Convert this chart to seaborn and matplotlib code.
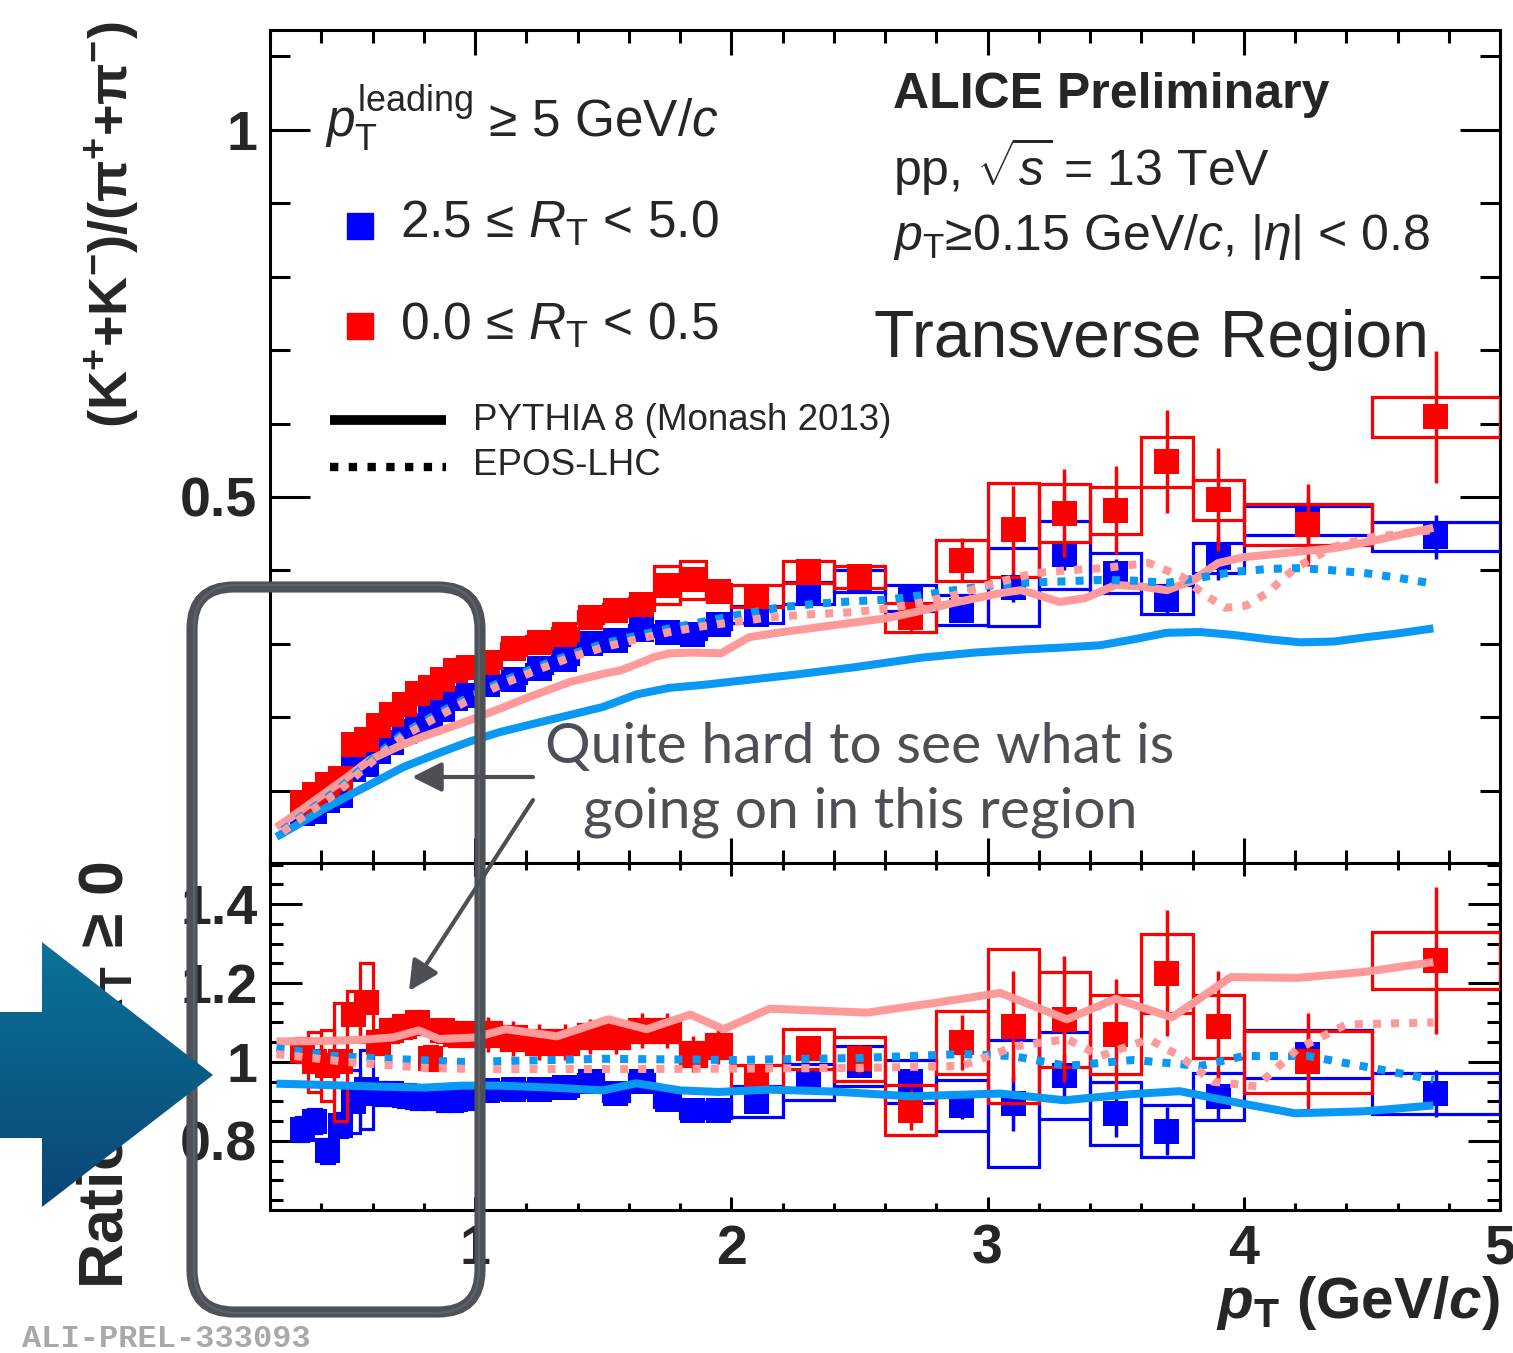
import numpy as np
import pandas as pd
import matplotlib
matplotlib.use("Agg")
import matplotlib.pyplot as plt
from matplotlib.ticker import MultipleLocator
from matplotlib.patches import Rectangle, Polygon, FancyBboxPatch
from matplotlib.colors import LinearSegmentedColormap
import seaborn as sns

W, H = 1513, 1353

# ---------------- data ----------------
pt_edges = [0.30, 0.35, 0.40, 0.45, 0.50, 0.55, 0.60, 0.65, 0.70, 0.75, 0.80, 0.85, 0.90, 0.95,
            1.00, 1.10, 1.20, 1.30, 1.40, 1.50, 1.60, 1.70, 1.80, 1.90,
            2.00, 2.20, 2.40, 2.60, 2.80, 3.00, 3.20, 3.40, 3.60, 3.80,
            4.00, 4.50, 5.00]

# (K+ + K-)/(pi+ + pi-), 2.5 <= RT < 5.0
kpi_high = [0.069, 0.072, 0.086, 0.093, 0.129, 0.135, 0.153, 0.166, 0.180, 0.189, 0.200, 0.211, 0.225, 0.230,
            0.244, 0.252, 0.266, 0.278, 0.300, 0.305, 0.320, 0.316, 0.313, 0.326,
            0.340, 0.369, 0.385, 0.362, 0.346, 0.377, 0.421, 0.396, 0.360, 0.417,
            0.468, 0.446]
kpi_high_stat = [0.001, 0.001, 0.001, 0.001, 0.001, 0.001, 0.001, 0.001, 0.001, 0.001, 0.001, 0.001, 0.001, 0.001,
                 0.002, 0.002, 0.002, 0.002, 0.002, 0.002, 0.002, 0.002, 0.002, 0.002,
                 0.004, 0.006, 0.008, 0.010, 0.012, 0.020, 0.020, 0.020, 0.020, 0.030,
                 0.030, 0.030]
kpi_high_sys = [0.004, 0.004, 0.004, 0.004, 0.004, 0.004, 0.004, 0.004, 0.004, 0.004, 0.004, 0.004, 0.004, 0.004,
                0.006, 0.006, 0.006, 0.006, 0.006, 0.006, 0.006, 0.006, 0.006, 0.006,
                0.012, 0.015, 0.015, 0.018, 0.020, 0.053, 0.046, 0.027, 0.020, 0.020,
                0.020, 0.020]

# (K+ + K-)/(pi+ + pi-), 0.0 <= RT < 0.5
kpi_low = [0.084, 0.095, 0.108, 0.116, 0.163, 0.170, 0.189, 0.203, 0.217, 0.232, 0.241, 0.252, 0.264, 0.268,
           0.275, 0.293, 0.302, 0.313, 0.336, 0.346, 0.354, 0.380, 0.387, 0.371,
           0.365, 0.398, 0.391, 0.336, 0.414, 0.455, 0.478, 0.482, 0.548, 0.496,
           0.462, 0.609]
kpi_low_stat = [0.002, 0.002, 0.002, 0.002, 0.002, 0.002, 0.002, 0.002, 0.002, 0.002, 0.002, 0.002, 0.002, 0.002,
                0.004, 0.004, 0.004, 0.004, 0.004, 0.012, 0.012, 0.012, 0.012, 0.012,
                0.008, 0.012, 0.015, 0.020, 0.030, 0.060, 0.060, 0.060, 0.070, 0.070,
                0.056, 0.090]
kpi_low_sys = [0.005, 0.005, 0.005, 0.005, 0.005, 0.005, 0.005, 0.005, 0.005, 0.005, 0.005, 0.005, 0.005, 0.005,
               0.008, 0.008, 0.008, 0.008, 0.008, 0.008, 0.008, 0.026, 0.026, 0.010,
               0.015, 0.015, 0.015, 0.020, 0.028, 0.064, 0.040, 0.032, 0.034, 0.027,
               0.028, 0.027]

# ratio to RT >= 0
ratio_high = [0.830, 0.850, 0.775, 0.840, 0.900, 0.930, 0.920, 0.920, 0.915, 0.910, 0.910, 0.907, 0.905, 0.910,
              0.927, 0.930, 0.930, 0.935, 0.950, 0.920, 0.950, 0.905, 0.878, 0.878,
              0.900, 0.950, 0.990, 0.950, 0.890, 0.895, 0.965, 0.870, 0.825, 0.912,
              1.020, 0.920]
ratio_high_stat = [0.010, 0.010, 0.010, 0.010, 0.010, 0.010, 0.010, 0.010, 0.010, 0.010, 0.010, 0.010, 0.010, 0.010,
                   0.010, 0.010, 0.010, 0.010, 0.010, 0.010, 0.010, 0.010, 0.010, 0.010,
                   0.015, 0.020, 0.025, 0.030, 0.035, 0.070, 0.055, 0.060, 0.060, 0.060,
                   0.060, 0.060]
ratio_high_sys = [0.030, 0.030, 0.030, 0.030, 0.080, 0.100, 0.030, 0.030, 0.030, 0.030, 0.030, 0.030, 0.030, 0.030,
                  0.020, 0.020, 0.020, 0.020, 0.020, 0.020, 0.020, 0.020, 0.020, 0.020,
                  0.040, 0.046, 0.050, 0.055, 0.065, 0.160, 0.110, 0.080, 0.065, 0.060,
                  0.060, 0.052]

ratio_low = [1.030, 1.000, 0.990, 1.000, 1.120, 1.150, 1.050, 1.080, 1.090, 1.100, 1.010, 1.080, 1.070, 1.070,
             1.070, 1.060, 1.050, 1.050, 1.065, 1.065, 1.080, 1.080, 1.020, 1.040,
             0.963, 1.033, 1.008, 0.878, 1.050, 1.090, 1.108, 1.070, 1.225, 1.090,
             1.000, 1.257]
ratio_low_stat = [0.010, 0.010, 0.010, 0.010, 0.010, 0.010, 0.010, 0.010, 0.010, 0.010, 0.010, 0.010, 0.010, 0.010,
                  0.045, 0.045, 0.045, 0.045, 0.045, 0.045, 0.045, 0.045, 0.045, 0.045,
                  0.020, 0.030, 0.035, 0.050, 0.070, 0.140, 0.160, 0.140, 0.160, 0.140,
                  0.125, 0.185]
ratio_low_sys = [0.030, 0.075, 0.090, 0.150, 0.060, 0.100, 0.030, 0.030, 0.030, 0.030, 0.030, 0.030, 0.030, 0.030,
                 0.030, 0.030, 0.030, 0.030, 0.030, 0.030, 0.030, 0.030, 0.030, 0.030,
                 0.030, 0.050, 0.055, 0.063, 0.080, 0.195, 0.120, 0.100, 0.100, 0.080,
                 0.078, 0.073]

# model predictions, K/pi
pythia_high_pt = [0.225, 0.30, 0.40, 0.50, 0.60, 0.72, 0.85, 0.98, 1.10, 1.24, 1.37, 1.50, 1.63, 1.76, 1.89,
                  2.07, 2.25, 2.48, 2.74, 2.95, 3.13, 3.30, 3.44, 3.57, 3.70, 3.83, 3.96, 4.10, 4.22, 4.35,
                  4.48, 4.60, 4.74]
pythia_high_kpi = [0.037, 0.052, 0.073, 0.092, 0.110, 0.132, 0.150, 0.167, 0.180, 0.192, 0.203, 0.214, 0.231,
                   0.240, 0.244, 0.251, 0.258, 0.268, 0.281, 0.288, 0.292, 0.295, 0.298, 0.306, 0.315, 0.316,
                   0.312, 0.306, 0.302, 0.303, 0.309, 0.314, 0.321]
pythia_low_pt = [0.225, 0.30, 0.40, 0.50, 0.59, 0.70, 0.80, 0.90, 0.98, 1.10, 1.20, 1.37, 1.50, 1.57, 1.63,
                 1.70, 1.76, 1.85, 1.96, 2.07, 2.20, 2.35, 2.48, 2.61, 2.74, 2.87, 3.05, 3.13, 3.20, 3.28,
                 3.38, 3.50, 3.60, 3.70, 3.80, 3.90, 4.00, 4.09, 4.20, 4.35, 4.50, 4.74]
pythia_low_kpi = [0.050, 0.068, 0.093, 0.118, 0.142, 0.160, 0.174, 0.186, 0.196, 0.212, 0.226, 0.248, 0.259,
                  0.264, 0.272, 0.282, 0.287, 0.288, 0.287, 0.309, 0.316, 0.323, 0.329, 0.335, 0.345, 0.356,
                  0.369, 0.373, 0.366, 0.357, 0.362, 0.380, 0.378, 0.373, 0.386, 0.410, 0.418, 0.421, 0.425,
                  0.430, 0.440, 0.458]
epos_high_pt = [0.25, 0.35, 0.46, 0.60, 0.72, 0.85, 0.98, 1.10, 1.24, 1.37, 1.50, 1.63, 1.76, 1.89, 2.02,
                2.20, 2.35, 2.48, 2.61, 2.74, 2.87, 3.00, 3.13, 3.30, 3.44, 3.57, 3.70, 3.83, 3.96, 4.10,
                4.22, 4.35, 4.48, 4.60, 4.72]
epos_high_kpi = [0.046, 0.072, 0.100, 0.143, 0.178, 0.204, 0.228, 0.248, 0.268, 0.285, 0.300, 0.311, 0.321,
                 0.330, 0.339, 0.350, 0.355, 0.358, 0.360, 0.366, 0.373, 0.379, 0.383, 0.385, 0.387, 0.386,
                 0.383, 0.390, 0.398, 0.402, 0.403, 0.400, 0.396, 0.390, 0.383]
epos_low_pt = [0.25, 0.35, 0.46, 0.60, 0.72, 0.85, 0.98, 1.10, 1.24, 1.37, 1.50, 1.63, 1.76, 1.89, 2.02,
               2.15, 2.30, 2.47, 2.61, 2.74, 2.87, 3.00, 3.18, 3.31, 3.45, 3.63, 3.76, 3.85, 3.93, 4.01,
               4.09, 4.20, 4.35, 4.50, 4.74]
epos_low_kpi = [0.044, 0.070, 0.097, 0.140, 0.174, 0.200, 0.224, 0.244, 0.264, 0.281, 0.295, 0.306, 0.316,
                0.324, 0.330, 0.336, 0.340, 0.343, 0.348, 0.356, 0.366, 0.380, 0.396, 0.400, 0.403, 0.410,
                0.391, 0.366, 0.349, 0.352, 0.369, 0.403, 0.432, 0.445, 0.455]

# model predictions, ratio to RT >= 0
pythia_high_ratio_pt = [0.225, 0.40, 0.60, 0.80, 0.95, 1.10, 1.30, 1.50, 1.63, 1.80, 1.95, 2.15, 2.40, 2.70,
                        3.05, 3.30, 3.55, 3.75, 3.95, 4.20, 4.47, 4.74]
pythia_high_ratio = [0.945, 0.942, 0.938, 0.935, 0.940, 0.940, 0.935, 0.928, 0.946, 0.928, 0.924, 0.930, 0.925,
                     0.913, 0.920, 0.903, 0.918, 0.926, 0.900, 0.870, 0.875, 0.890]
pythia_low_ratio_pt = [0.225, 0.40, 0.55, 0.68, 0.78, 0.86, 1.00, 1.12, 1.32, 1.52, 1.67, 1.84, 1.97, 2.15,
                       2.53, 2.80, 3.05, 3.31, 3.50, 3.72, 3.95, 4.21, 4.47, 4.74]
pythia_low_ratio = [1.052, 1.053, 1.056, 1.062, 1.080, 1.058, 1.062, 1.083, 1.065, 1.108, 1.083, 1.120, 1.083,
                    1.135, 1.125, 1.150, 1.175, 1.108, 1.160, 1.113, 1.215, 1.213, 1.228, 1.253]
epos_high_ratio_pt = [0.225, 0.45, 0.60, 0.95, 1.50, 2.00, 2.50, 2.90, 3.10, 3.31, 3.57, 3.83, 4.00, 4.25,
                      4.50, 4.74]
epos_high_ratio = [1.035, 1.015, 1.010, 1.000, 1.008, 1.005, 1.010, 1.020, 1.015, 0.990, 1.005, 0.990, 1.015,
                   1.015, 0.985, 0.955]
epos_low_ratio_pt = [0.225, 0.50, 0.80, 1.00, 1.50, 2.00, 2.50, 2.90, 3.11, 3.31, 3.44, 3.63, 3.75, 3.88,
                     4.05, 4.21, 4.40, 4.74]
epos_low_ratio = [1.020, 1.000, 0.985, 0.982, 0.982, 0.983, 0.985, 0.990, 1.040, 1.058, 1.015, 1.058, 1.015,
                  0.950, 0.938, 1.033, 1.095, 1.100]

# ---------------- style ----------------
RED = "#ff0000"
BLUE = "#0000ff"
PINK = "#ff9a9a"
SKY = "#0a98f5"
GREY = "#4c5055"

sns.set_theme(style="ticks")
plt.rcParams.update({
    "axes.linewidth": 2.2,
    "mathtext.fontset": "custom",
    "mathtext.rm": "Liberation Sans",
    "mathtext.it": "Liberation Sans:italic",
    "mathtext.bf": "Liberation Sans:bold",
    "mathtext.sf": "Liberation Sans",
    "mathtext.default": "regular",
})
try:
    plt.rcParams["mathtext.bfit"] = "Liberation Sans:italic:bold"
except KeyError:
    pass
plt.rcParams["font.family"] = ["Liberation Sans", "DejaVu Sans"]

fig = plt.figure(figsize=(W / 100, H / 100), dpi=100)
fig.patch.set_facecolor("white")


def px_rect(x0, y_top, x1, y_bot):
    return [x0 / W, 1 - y_bot / H, (x1 - x0) / W, (y_bot - y_top) / H]


ax_top = fig.add_axes(px_rect(270, 30, 1500, 863))
ax_bot = fig.add_axes(px_rect(270, 863, 1500, 1210))

lo = np.array(pt_edges[:-1])
hi = np.array(pt_edges[1:])
ctr = 0.5 * (lo + hi)


def draw_points(ax, vals, stat, sys, color, z):
    df = pd.DataFrame({"pt": ctr, "val": vals, "stat": stat, "sys": sys,
                       "lo": lo, "hi": hi})
    for r in df.itertuples():
        ax.add_patch(Rectangle((r.lo, r.val - r.sys), r.hi - r.lo, 2 * r.sys,
                               fill=False, edgecolor=color, linewidth=2.3,
                               joinstyle="miter", zorder=z))
    ax.vlines(df["pt"], df["val"] - df["stat"], df["val"] + df["stat"],
              color=color, linewidth=2.5, zorder=z + 0.1)
    sns.scatterplot(data=df, x="pt", y="val", ax=ax, marker="s", s=324,
                    color=color, edgecolor="none", linewidth=0,
                    legend=False, zorder=z + 0.2)


def draw_curve(ax, x, y, color, dotted, z):
    kw = dict(linewidth=5.8, color=color, zorder=z)
    if dotted:
        kw.update(linestyle=(0, (1.0, 1.25)), dash_capstyle="butt")
    else:
        kw.update(solid_capstyle="butt", solid_joinstyle="round")
    sns.lineplot(x=x, y=y, ax=ax, sort=False, estimator=None, **kw)


# upper panel
draw_points(ax_top, kpi_high, kpi_high_stat, kpi_high_sys, BLUE, 3)
draw_points(ax_top, kpi_low, kpi_low_stat, kpi_low_sys, RED, 4)
draw_curve(ax_top, pythia_high_pt, pythia_high_kpi, SKY, False, 6)
draw_curve(ax_top, pythia_low_pt, pythia_low_kpi, PINK, False, 6.1)
draw_curve(ax_top, epos_high_pt, epos_high_kpi, SKY, True, 6.2)
draw_curve(ax_top, epos_low_pt, epos_low_kpi, PINK, True, 6.3)

# lower panel
draw_points(ax_bot, ratio_high, ratio_high_stat, ratio_high_sys, BLUE, 3)
draw_points(ax_bot, ratio_low, ratio_low_stat, ratio_low_sys, RED, 4)
draw_curve(ax_bot, pythia_high_ratio_pt, pythia_high_ratio, SKY, False, 6)
draw_curve(ax_bot, pythia_low_ratio_pt, pythia_low_ratio, PINK, False, 6.1)
draw_curve(ax_bot, epos_high_ratio_pt, epos_high_ratio, SKY, True, 6.2)
draw_curve(ax_bot, epos_low_ratio_pt, epos_low_ratio, PINK, True, 6.3)

# axes cosmetics
TICKFONT = dict(fontsize=40, fontweight="bold")
for ax in (ax_top, ax_bot):
    ax.set_facecolor("white")
    ax.grid(False)
    ax.set_xlim(0.2, 5.0)
    ax.set_xlabel("")
    ax.set_ylabel("")
    for sp in ax.spines.values():
        sp.set_visible(True)
        sp.set_linewidth(2.2)
        sp.set_color("black")
    ax.xaxis.set_minor_locator(MultipleLocator(0.2))
    ax.tick_params(which="both", direction="in", top=True, bottom=True,
                   left=True, right=True, width=2.2, color="black")

ax_top.set_ylim(0.0014, 1.136)
ax_top.set_xticks([1, 2, 3, 4, 5])
ax_top.tick_params(axis="x", labelbottom=False)
ax_top.set_yticks([0.5, 1.0], labels=["0.5", "1"], **TICKFONT)
ax_top.yaxis.set_minor_locator(MultipleLocator(0.1))
ax_top.tick_params(axis="x", which="major", length=18)
ax_top.tick_params(axis="x", which="minor", length=9.5)
ax_top.tick_params(axis="y", which="major", length=29, pad=9)
ax_top.tick_params(axis="y", which="minor", length=14.5)

ax_bot.set_ylim(0.625, 1.504)
ax_bot.set_xticks([1, 2, 3, 4, 5], labels=["1", "2", "3", "4", "5"], **TICKFONT)
ax_bot.set_yticks([0.8, 1.0, 1.2, 1.4], labels=["0.8", "1", "1.2", "1.4"], **TICKFONT)
ax_bot.yaxis.set_minor_locator(MultipleLocator(0.05))
ax_bot.tick_params(axis="x", which="major", length=9.5, pad=10)
ax_bot.tick_params(axis="x", which="minor", length=5)
ax_bot.tick_params(axis="y", which="major", length=23, pad=9)
ax_bot.tick_params(axis="y", which="minor", length=9.5)

# axis titles
fig.text(113 / W, 1 - 225 / H, r"(K$^{+}$+K$^{-}$)/($\pi^{+}$+$\pi^{-}$)", rotation=90,
         ha="center", va="center", fontsize=39, fontweight="bold")
fig.text(106 / W, 1 - 1075 / H, r"Ratio to $\mathbfit{R}_{T}$ ≥ 0", rotation=90,
         ha="center", va="center", fontsize=45, fontweight="bold")
fig.text(1500 / W, 1 - 1318 / H, r"$\mathbfit{p}_{T}$ (GeV/$\mathbfit{c}$)",
         ha="right", va="baseline", fontsize=42, fontweight="bold")

# ---------------- overlay in pixel coordinates ----------------
ov = fig.add_axes([0, 0, 1, 1], zorder=20)
ov.patch.set_alpha(0)
ov.axis("off")

# legend and header texts
ov.text(325, 137, r"$\mathit{p}_{T}^{leading}$ ≥ 5 GeV/$\mathit{c}$", fontsize=37, va="baseline")
ov.plot([360], [226], marker="s", markersize=18.5, color=BLUE, linestyle="none")
ov.plot([360], [326], marker="s", markersize=18.5, color=RED, linestyle="none")
ov.text(400, 238, r"2.5 ≤ $\mathit{R}_{T}$ < 5.0", fontsize=37, va="baseline")
ov.text(400, 340, r"0.0 ≤ $\mathit{R}_{T}$ < 0.5", fontsize=37, va="baseline")
ov.plot([330, 446], [420, 420], color="black", linewidth=7, solid_capstyle="butt")
ov.plot([330, 446], [467, 467], color="black", linewidth=6,
        linestyle=(0, (1.0, 1.25)), dash_capstyle="butt")
ov.text(473, 430, "PYTHIA 8 (Monash 2013)", fontsize=26.5, va="baseline")
ov.text(473, 475, "EPOS-LHC", fontsize=26.5, va="baseline")

ov.text(893, 108, "ALICE Preliminary", fontsize=36, fontweight="bold", va="baseline")
ov.text(893, 185, r"pp, $\sqrt{\mathit{s}}$ = 13 TeV", fontsize=36, va="baseline")
ov.text(893, 250, r"$\mathit{p}_{T}$≥0.15 GeV/$\mathit{c}$, |$\mathit{\eta}$| < 0.8",
        fontsize=36, va="baseline")
ov.text(874, 357, "Transverse Region", fontsize=47.5, va="baseline")

# call-out box around the low-pT region
ov.add_patch(FancyBboxPatch((192, 587), 288, 725,
                            boxstyle="round,pad=0,rounding_size=42",
                            fill=False, edgecolor="#4e5257", linewidth=8, zorder=6))
ov.add_patch(FancyBboxPatch((194, 585), 285, 728,
                            boxstyle="round,pad=0,rounding_size=44",
                            fill=False, edgecolor="#6a6e73", linewidth=1.5,
                            alpha=0.6, zorder=6))

# call-out text and arrows
ov.text(860, 763, "Quite hard to see what is", fontsize=41, family=["Lato", "DejaVu Sans"],
        fontweight="normal", color=GREY, ha="center", va="baseline", zorder=7)
ov.text(860, 827, "going on in this region", fontsize=41, family=["Lato", "DejaVu Sans"],
        fontweight="normal", color=GREY, ha="center", va="baseline", zorder=7)
arrow_kw = dict(arrowstyle="-|>,head_length=1.0,head_width=0.5", lw=3, color=GREY,
                mutation_scale=18, shrinkA=0, shrinkB=0)
ov.annotate("", xy=(412, 777), xytext=(533, 777), arrowprops=arrow_kw, zorder=7)
ov.annotate("", xy=(409, 991), xytext=(533, 800), arrowprops=arrow_kw, zorder=7)

# big pointer arrow on the left with a vertical gradient
arrow_pts = [(0, 1012), (42, 1012), (42, 942), (213, 1075), (42, 1207), (42, 1138), (0, 1138)]
arrow_poly = Polygon(arrow_pts, closed=True, facecolor="none", edgecolor="none")
ov.add_patch(arrow_poly)
grad = np.linspace(0, 1, 256).reshape(-1, 1)
cmap = LinearSegmentedColormap.from_list("pointer", ["#0a7399", "#0c4576"])
im = ov.imshow(grad, cmap=cmap, extent=(0, 215, 1210, 940), aspect="auto",
               interpolation="bilinear", zorder=8)
im.set_clip_path(arrow_poly)

ov.text(22, 1347, "ALI-PREL-333093", fontsize=23, family=["Liberation Mono", "DejaVu Sans Mono"],
        fontweight="bold", color="#a9a9a9", ha="left", va="baseline")

ov.set_xlim(0, W)
ov.set_ylim(H, 0)

fig.savefig("out.png", dpi=100)
